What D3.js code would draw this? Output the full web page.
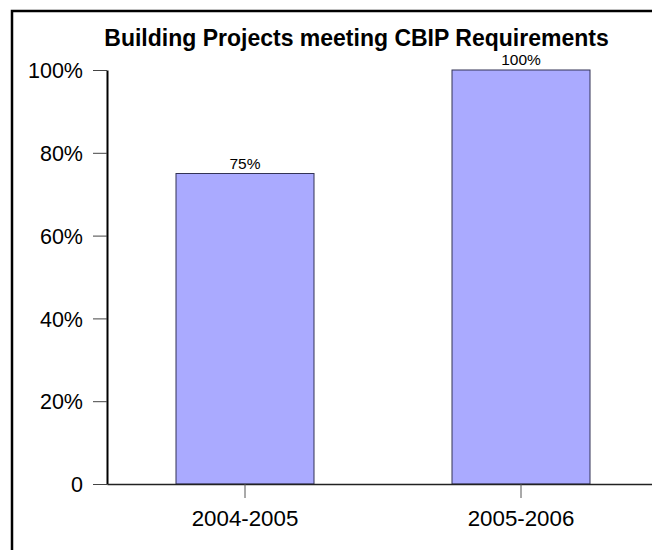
<!DOCTYPE html>
<html><head><meta charset="utf-8">
<script src="https://cdn.jsdelivr.net/npm/d3@7"></script>
<style>body{margin:0;background:#fff;} svg{display:block;}</style>
</head><body>
<script>
const categories = ["2004-2005", "2005-2006"];
const values = [0.75, 1.00];
const barLabels = ["75%", "100%"];
const yTicks = [0, 0.2, 0.4, 0.6, 0.8, 1.0];
const yTickLabels = ["0", "20%", "40%", "60%", "80%", "100%"];
const title = "Building Projects meeting CBIP Requirements";

const W = 652, H = 550;
const svg = d3.select("body").append("svg").attr("width", W).attr("height", H);
const font = "Liberation Sans, Arial, sans-serif";

// frame
svg.append("rect").attr("x", 12).attr("y", 11).attr("width", W).attr("height", H)
  .attr("fill", "none").attr("stroke", "#000").attr("stroke-width", 2.5);

const x = d3.scaleBand().domain(categories).range([107, 659]).paddingInner(0.5).paddingOuter(0.25);
const y = d3.scaleLinear().domain([0, 1]).range([484, 70]);

// bars
svg.selectAll("rect.bar").data(values).enter().append("rect")
  .attr("class", "bar")
  .attr("x", (d, i) => x(categories[i]))
  .attr("y", d => y(d))
  .attr("width", x.bandwidth())
  .attr("height", d => y(0) - y(d))
  .attr("fill", "#aaaaff").attr("stroke", "#333355").attr("stroke-width", 1);

svg.selectAll("text.bl").data(values).enter().append("text")
  .attr("class", "bl")
  .attr("x", (d, i) => x(categories[i]) + x.bandwidth() / 2)
  .attr("y", d => y(d) - 5)
  .attr("text-anchor", "middle").attr("font-family", font).attr("font-size", 15.5)
  .text((d, i) => barLabels[i]);

// y axis
const yAxis = d3.axisLeft(y).tickValues(yTicks).tickFormat((d, i) => yTickLabels[i])
  .tickSize(14).tickSizeOuter(0).tickPadding(10);
const gy = svg.append("g").attr("transform", "translate(107,0)").call(yAxis);
gy.select(".domain").attr("stroke", "#000").attr("stroke-width", 2);
gy.selectAll(".tick line").attr("stroke", "#444").attr("stroke-width", 1);
gy.selectAll(".tick text").attr("font-family", font).attr("font-size", 21.5).attr("fill", "#000").attr("dy", "0.36em");

// x axis
const xAxis = d3.axisBottom(x).tickSize(14).tickSizeOuter(0).tickPadding(12);
const gx = svg.append("g").attr("transform", "translate(0,484)").call(xAxis);
gx.select(".domain").attr("stroke", "#222").attr("stroke-width", 1.5);
gx.selectAll(".tick line").attr("stroke", "#555").attr("stroke-width", 1);
gx.selectAll(".tick text").attr("font-family", font).attr("font-size", 22.3).attr("fill", "#000");

// title
svg.append("text").attr("x", 356.5).attr("y", 46).attr("text-anchor", "middle")
  .attr("font-family", font).attr("font-weight", "bold").attr("font-size", 23).text(title);
</script>
</body></html>
